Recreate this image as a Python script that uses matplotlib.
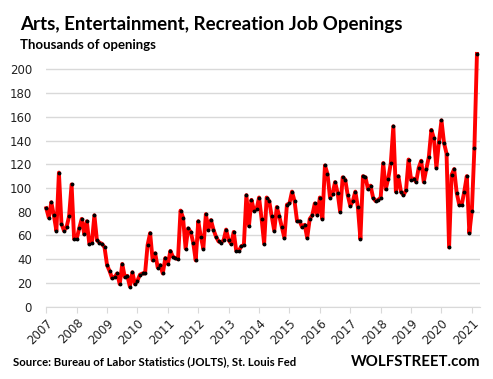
import matplotlib.pyplot as plt
import numpy as np

# monthly job openings (thousands), Jan 2007 .. Mar 2021
v2007 = [83, 75, 88, 77, 64, 113, 70, 64, 67, 76, 103, 57]
v2008 = [57, 66, 74, 61, 72, 53, 54, 77, 56, 54, 53, 50]
v2009 = [35, 30, 24, 25, 28, 19, 36, 25, 26, 17, 29, 19]
v2010 = [22, 27, 28, 28, 52, 62, 39, 45, 33, 35, 28, 41]
v2011 = [36, 47, 42, 41, 40, 81, 75, 49, 66, 63, 54, 39]
v2012 = [72, 59, 49, 78, 65, 73, 65, 59, 55, 54, 56, 65]
v2013 = [56, 53, 63, 47, 47, 51, 52, 94, 68, 90, 81, 82]
v2014 = [92, 74, 53, 92, 89, 76, 64, 84, 76, 67, 58, 86]
v2015 = [87, 97, 89, 72, 72, 67, 69, 58, 74, 77, 87, 77]
v2016 = [92, 74, 119, 112, 92, 95, 105, 96, 80, 109, 107, 94]
v2017 = [85, 89, 97, 84, 57, 110, 109, 99, 102, 92, 89, 90]
v2018 = [92, 121, 99, 108, 121, 152, 97, 110, 97, 94, 98, 124]
v2019 = [107, 108, 105, 117, 123, 105, 116, 126, 149, 142, 117, 139]
v2020 = [157, 138, 129, 50, 111, 116, 96, 86, 86, 97, 110, 62]
v2021 = [81, 134, 213]

openings = v2007 + v2008 + v2009 + v2010 + v2011 + v2012 + v2013 + v2014 + v2015 + v2016 + v2017 + v2018 + v2019 + v2020 + v2021
years = [str(y) for y in range(2007, 2022)]

fig = plt.figure(figsize=(4.93, 3.79), dpi=100)
ax = fig.add_axes([0.0933, 0.1908, 0.8803, 0.6889])

x = np.arange(len(openings))
ax.plot(x, openings, color='#ff0000', lw=2.8, zorder=3, clip_on=False)
ax.plot(x, openings, 'o', color='black', ms=1.8, zorder=4, clip_on=False)

ax.set_ylim(0, 220)
ax.set_yticks(range(0, 201, 20))
ax.set_xlim(-0.1, 171.2)
ax.set_xticks(range(0, 169, 12))
ax.set_xticklabels(years, rotation=45, ha='right', rotation_mode='anchor')

ax.grid(axis='y', color='#d9d9d9', lw=1)
ax.set_axisbelow(True)
for s in ['top', 'right', 'left']:
    ax.spines[s].set_visible(False)
ax.spines['bottom'].set_color('#d9d9d9')
ax.tick_params(axis='y', length=0, pad=10, labelsize=8.5, labelcolor='#222222')
ax.tick_params(axis='x', length=4, color='#d9d9d9', pad=3, labelsize=8.5, labelcolor='#222222')

fig.text(0.041, 0.935, 'Arts, Entertainment, Recreation Job Openings', fontsize=13.5,
         fontweight='bold', family='Lato', va='center')
fig.text(0.041, 0.882, 'Thousands of openings', fontsize=9.5, fontweight='bold',
         family='Lato', va='center')
fig.text(0.027, 0.045, 'Source: Bureau of Labor Statistics (JOLTS), St. Louis Fed', fontsize=8.2,
         fontweight='bold', family='Lato', va='center')
fig.text(0.975, 0.045, 'WOLFSTREET.com', fontsize=10.8, fontweight='bold', family='Lato',
         va='center', ha='right')

fig.savefig('out.png', dpi=100)
